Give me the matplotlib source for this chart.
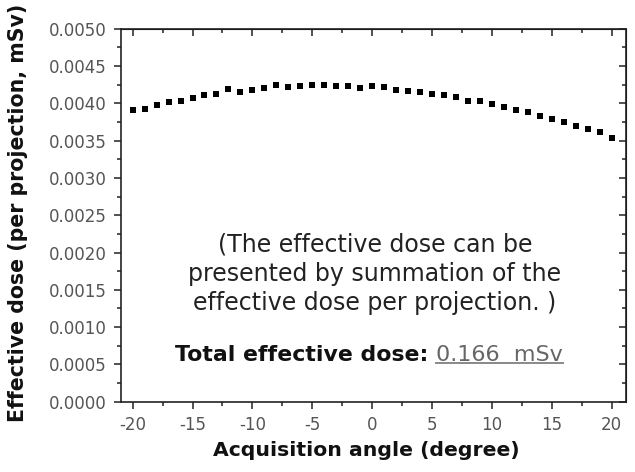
import matplotlib
matplotlib.use("Agg")
import matplotlib.pyplot as plt
from matplotlib.ticker import MultipleLocator

plt.rcParams["font.family"] = ["DejaVu Sans"]
plt.rcParams["axes.unicode_minus"] = False

# ── Data: effective dose per projection vs acquisition angle ─────────────────
angles = list(range(-20, 21))
dose = [0.00391, 0.00393, 0.00398, 0.00402, 0.00403, 0.00407, 0.00411, 0.00412,
        0.00419, 0.00415, 0.00418, 0.00420, 0.00424, 0.00422, 0.00423, 0.00424,
        0.00425, 0.00423, 0.00423, 0.00420, 0.00423, 0.00422, 0.00418, 0.00416,
        0.00415, 0.00413, 0.00411, 0.00408, 0.00403, 0.00403, 0.00399, 0.00395,
        0.00391, 0.00388, 0.00383, 0.00379, 0.00375, 0.00370, 0.00366, 0.00362,
        0.00354]

note_lines = ["(The effective dose can be",
              "presented by summation of the",
              "effective dose per projection. )"]
total_label = "Total effective dose:"
total_value = "0.166  mSv"

fig = plt.figure(figsize=(6.35, 4.72), dpi=100)
ax = fig.add_axes([0.190, 0.149, 0.796, 0.790])

ax.plot(angles, dose, linestyle="none", marker="s", markersize=4.6,
        color="black", markeredgewidth=0)

ax.set_xlim(-21, 21.2)
ax.set_ylim(0, 0.005)
ax.xaxis.set_major_locator(MultipleLocator(5))
ax.xaxis.set_minor_locator(MultipleLocator(2.5))
ax.yaxis.set_major_locator(MultipleLocator(0.0005))
ax.yaxis.set_minor_locator(MultipleLocator(0.00025))
ax.yaxis.set_major_formatter(plt.FuncFormatter(lambda v, p: f"{v:.4f}"))

for s in ax.spines.values():
    s.set_linewidth(1.2)
    s.set_color("#222")

ax.tick_params(which="both", direction="out", labelsize=12, labelcolor="#555",
               color="#222", width=1.1)
ax.tick_params(which="major", length=5, pad=5)
ax.tick_params(which="minor", length=3)
# mirrored axes: ticks point inward on top and right
sec_x = ax.secondary_xaxis("top")
sec_x.xaxis.set_major_locator(MultipleLocator(5))
sec_x.xaxis.set_minor_locator(MultipleLocator(2.5))
sec_x.tick_params(which="both", direction="in", labeltop=False, color="#222", width=1.1)
sec_x.tick_params(which="major", length=5)
sec_x.tick_params(which="minor", length=3)
sec_y = ax.secondary_yaxis("right")
sec_y.yaxis.set_major_locator(MultipleLocator(0.0005))
sec_y.yaxis.set_minor_locator(MultipleLocator(0.00025))
sec_y.tick_params(which="both", direction="in", labelright=False, color="#222", width=1.1)
sec_y.tick_params(which="major", length=5)
sec_y.tick_params(which="minor", length=3)

ax.set_xlabel("Acquisition angle (degree)", fontsize=14.7, fontweight="bold", color="#111")
ax.set_ylabel("Effective dose (per projection, mSv)", fontsize=14.8, fontweight="bold",
              color="#111")
ax.xaxis.set_label_coords(0.487, -0.105)
ax.yaxis.set_label_coords(-0.183, 0.506)

# annotation text
for y, line in zip([0.4017, 0.3239, 0.246], note_lines):
    ax.text(0.503, y, line, transform=ax.transAxes, ha="center", va="baseline",
            fontsize=17, color="#222")

ax.text(0.608, 0.109, total_label, transform=ax.transAxes, ha="right", va="baseline",
        fontsize=15.8, fontweight="bold", color="#111")
val = ax.text(0.624, 0.109, total_value, transform=ax.transAxes, ha="left",
              va="baseline", fontsize=16, color="#666")

# underline the total value
fig.canvas.draw()
bb = val.get_window_extent().transformed(ax.transAxes.inverted())
ax.plot([bb.x0, bb.x1], [bb.y0 + 0.006, bb.y0 + 0.006], transform=ax.transAxes,
        color="#888", linewidth=1.4, clip_on=False)

plt.savefig("out.png", dpi=100)
plt.close()
